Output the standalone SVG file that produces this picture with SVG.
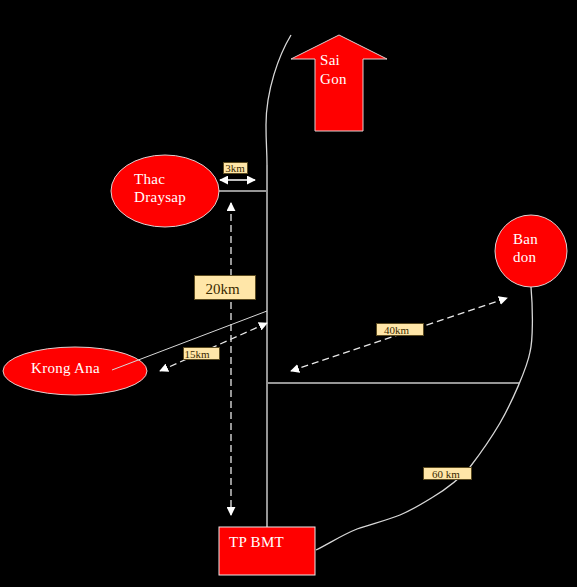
<svg xmlns="http://www.w3.org/2000/svg" width="577" height="587" viewBox="0 0 577 587">
<defs>
<marker id="ah" viewBox="0 0 10 10" refX="9" refY="5" markerWidth="9" markerHeight="9" markerUnits="userSpaceOnUse" orient="auto-start-reverse"><path d="M0 0L10 5L0 10Z" fill="#fff"/></marker>
</defs>
<style>
.n{fill:#f00;stroke:#e0d0d0;stroke-width:1}
.t{font-family:"Liberation Serif","Times New Roman",serif;fill:#fff;font-size:15px;letter-spacing:.3px}
.r{fill:none;stroke:#969696;stroke-width:2}
.c{fill:none;stroke:#d8d8d8;stroke-width:1}
.d{fill:none;stroke:#e8e8e8;stroke-width:1.3;stroke-dasharray:7 4;marker-start:url(#ah);marker-end:url(#ah)}
.l{fill:#ffe6a8;stroke:#5a4a20;stroke-width:1}
.lt{font-family:"Liberation Serif","Times New Roman",serif;fill:#3a2a00;font-size:11px;text-anchor:middle}
</style>
<rect width="577" height="587" fill="#000"/>
<g id="connectors">
<path class="c" style="stroke-width:1.3" d="M291 35C279 55 266 90 266 125C266 145 267 150 267 165"/>
<path class="r" d="M267 165V527"/>
<path class="r" d="M219 191H267"/>
<path class="r" d="M267 383H519"/>
<path class="c" style="stroke-width:1.3" d="M531 287C533 310 533 340 530 352C527 368 512 402 500 423C490 440 480 454 470 467C462 476 448 488 433 497C420 505 412 510 400 515C385 521 371 524 357 529C342 535 330 543 316 550"/>
<path d="M220 180H255" fill="none" stroke="#fff" stroke-width="1.5" marker-start="url(#ah)" marker-end="url(#ah)"/>
<path class="d" d="M231 203V515"/>
<path class="d" d="M160 371L267 323"/>
<path class="d" d="M291 371L507 298"/>
</g>
<g id="sai-gon">
<path class="n" d="M339 35L387 59H363V131H315V59H291Z"/>
<text class="t" x="320" y="65">Sai</text>
<text class="t" x="320" y="84">Gon</text>
</g>
<g id="thac-draysap">
<ellipse class="n" cx="165" cy="191" rx="54" ry="36"/>
<text class="t" x="134" y="184">Thac</text>
<text class="t" x="134" y="202">Draysap</text>
</g>
<g id="krong-ana">
<ellipse class="n" cx="75" cy="371" rx="72" ry="24"/>
<text class="t" x="31" y="373">Krong Ana</text>
</g>
<g id="ban-don">
<circle class="n" cx="531" cy="251" r="36"/>
<text class="t" x="513" y="244">Ban</text>
<text class="t" x="513" y="262">don</text>
</g>
<g id="tp-bmt">
<rect x="219" y="527" width="96" height="48" fill="#f00" stroke="#f0e8e8"/>
<text class="t" x="229" y="547">TP BMT</text>
</g>
<path class="c" d="M112 370L267 311"/>
<g id="label-3km"><rect class="l" x="223.500" y="162.500" width="24" height="11"/><text class="lt" x="235" y="171.500">3km</text></g>
<g id="label-20km"><rect class="l" x="194.500" y="275.500" width="61" height="24"/><text class="lt" style="font-size:15px" x="222.500" y="294">20km</text></g>
<g id="label-15km"><rect class="l" x="183.500" y="347.500" width="36" height="12"/><text class="lt" x="197" y="357.500">15km</text></g>
<g id="label-40km"><rect class="l" x="376.500" y="323.500" width="47" height="12"/><text class="lt" x="396.500" y="333.500">40km</text></g>
<g id="label-60km"><rect class="l" x="423.500" y="467.500" width="48" height="12"/><text class="lt" x="446" y="477.500">60 km</text></g>
</svg>
